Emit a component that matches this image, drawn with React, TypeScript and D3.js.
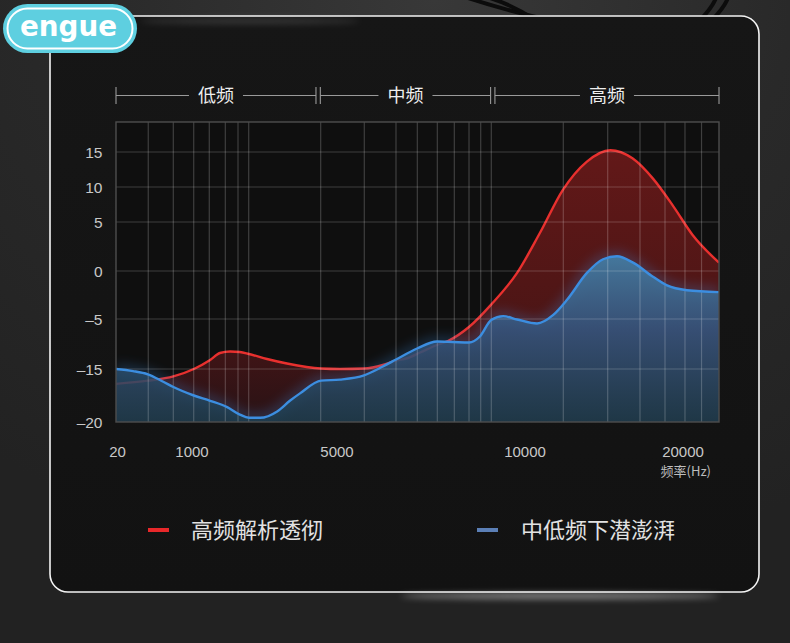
import React from 'react';
import * as d3 from 'd3';

// ---------- data ----------
const bandNames = ['低频', '中频', '高频'];
const bandStart = [20, 4540, 9200];
const bandEnd = [4420, 9085, 22300];

const xTickValues = [20, 1000, 5000, 10000, 20000];
const xTickLabels = ['20', '1000', '5000', '10000', '20000'];
const yTickValues = [15, 10, 5, 0, -5, -15, -20];
const yTickLabels = ['15', '10', '5', '0', '–5', '–15', '–20'];

const xGridValues = [436, 759, 1047, 1477, 1919, 2269, 2564, 4550, 5726, 6569, 7136, 7668, 8120, 8511, 8822, 9104, 12424, 15234, 17278, 18861, 20127, 21184];
const yGridValues = [15, 10, 5, 0, -5, -15];

const seriesNames = ['高频解析透彻', '中低频下潜澎湃'];

const redFreq = [20, 430, 760, 1050, 1500, 1770, 2050, 2320, 2570, 3070, 3620, 4560, 5080, 5720, 6220, 6570, 6840, 7210, 7660, 7950, 8510, 9100, 9790, 10950, 12400, 13900, 15400, 16800, 18100, 19400, 20600, 22300];
const redDb = [-16.4, -16.1, -15.7, -15.0, -13.2, -11.8, -11.5, -11.6, -12.0, -13.0, -13.9, -14.9, -15.0, -14.9, -14.2, -13.3, -12.9, -11.7, -10.2, -9.4, -6.6, -3.5, -0.2, 3.9, 9.6, 13.6, 15.3, 14.1, 11.2, 7.2, 3.7, 0.85];

const blueFreq = [20, 240, 430, 630, 760, 1050, 1500, 1970, 2320, 2570, 2880, 3350, 3700, 3980, 4560, 5080, 5720, 6220, 6570, 7130, 7660, 8090, 8510, 8800, 9100, 9420, 9790, 10760, 11770, 12660, 13920, 14940, 15820, 16840, 18100, 18990, 20250, 22300];
const blueDb = [-15.0, -15.2, -15.5, -16.2, -16.7, -17.5, -18.0, -18.6, -19.3, -19.6, -19.6, -19.0, -18.0, -17.3, -16.1, -16.0, -15.6, -14.5, -13.1, -10.9, -9.5, -9.6, -9.7, -8.5, -5.2, -4.7, -5.1, -5.9, -4.6, -3.0, -0.2, 1.2, 1.5, 0.85, -0.6, -1.5, -2.0, -2.2];

// ---------- layout ----------
const W = 790;
const H = 643;
const plot = { left: 116, right: 719, top: 122, bottom: 422 };

const x = d3
  .scaleLinear()
  .domain([20, 1000, 5000, 10000, 20000, 22300])
  .range([116, 192, 337, 525, 683, 719]);

const y = d3
  .scaleLinear()
  .domain([-20, -15, -5, 0, 5, 10, 15, 20])
  .range([422, 369, 319, 271, 222, 187, 152, 122]);

type Pt = { f: number; v: number };
const redData: Pt[] = redFreq.map((f, i) => ({ f, v: redDb[i] }));
const blueData: Pt[] = blueFreq.map((f, i) => ({ f, v: blueDb[i] }));

const line = d3
  .line<Pt>()
  .x((d) => x(d.f))
  .y((d) => y(d.v))
  .curve(d3.curveMonotoneX);

const area = d3
  .area<Pt>()
  .x((d) => x(d.f))
  .y0(y(-20))
  .y1((d) => y(d.v))
  .curve(d3.curveMonotoneX);

const numFont = '"Liberation Sans", Arial, Helvetica, sans-serif';
const cjkFont = '"Noto Sans CJK SC", "Noto Sans", sans-serif';

export default function App() {
  return (
    <svg width={W} height={H} style={{ position: 'absolute', left: 0, top: 0, display: 'block' }}>
      <defs>
        <radialGradient id="bgGrad" cx="0.55" cy="0" r="0.9">
          <stop offset="0" stopColor="#383838" />
          <stop offset="0.5" stopColor="#292929" />
          <stop offset="1" stopColor="#222222" />
        </radialGradient>
        <linearGradient id="cardGrad" x1="0" y1="0" x2="0" y2="1">
          <stop offset="0" stopColor="#161616" />
          <stop offset="1" stopColor="#121212" />
        </linearGradient>
        <linearGradient id="redFill" gradientUnits="userSpaceOnUse" x1="0" y1="150" x2="0" y2="422">
          <stop offset="0" stopColor="rgb(150,30,30)" stopOpacity="0.62" />
          <stop offset="0.6" stopColor="rgb(140,28,28)" stopOpacity="0.5" />
          <stop offset="1" stopColor="rgb(120,28,38)" stopOpacity="0.25" />
        </linearGradient>
        <linearGradient id="blueFill" gradientUnits="userSpaceOnUse" x1="0" y1="255" x2="0" y2="422">
          <stop offset="0" stopColor="rgb(68,124,162)" stopOpacity="0.95" />
          <stop offset="0.45" stopColor="rgb(52,86,128)" stopOpacity="0.88" />
          <stop offset="1" stopColor="rgb(28,64,82)" stopOpacity="0.8" />
        </linearGradient>
        <filter id="blur6" x="-20%" y="-50%" width="140%" height="200%">
          <feGaussianBlur stdDeviation="6" />
        </filter>
        <filter id="blur3" x="-20%" y="-200%" width="140%" height="500%">
          <feGaussianBlur stdDeviation="3" />
        </filter>
        <clipPath id="plotClip">
          <rect x={plot.left} y={plot.top} width={plot.right - plot.left} height={plot.bottom - plot.top} />
        </clipPath>
      </defs>

      {/* page background */}
      <rect x={0} y={0} width={W} height={H} fill="url(#bgGrad)" />
      {/* headphone cables */}
      <g fill="none" stroke="#0c0c0c" strokeWidth={4} strokeLinecap="round">
        <path d="M468,-2 Q505,10 548,20" />
        <path d="M490,-2 Q515,6 535,20" />
        <path d="M700,20 Q712,8 716,-2" />
        <path d="M712,20 Q724,8 728,-2" />
      </g>

      {/* card */}
      <rect x={50} y={16} width={709} height={576} rx={18} fill="url(#cardGrad)" stroke="#f4f4f4" strokeWidth={1.6} />
      {/* glows */}
      <ellipse cx={250} cy={21} rx={110} ry={3} fill="#ffffff" opacity={0.14} filter="url(#blur3)" />
      <ellipse cx={560} cy={596} rx={160} ry={3} fill="#ffffff" opacity={0.45} filter="url(#blur3)" />

      {/* plot background */}
      <rect x={plot.left} y={plot.top} width={plot.right - plot.left} height={plot.bottom - plot.top} fill="#0f0f0f" />

      <g clipPath="url(#plotClip)">
        <path d={area(redData) || ''} fill="url(#redFill)" />
        <path d={line(redData) || ''} fill="none" stroke="#e8302e" strokeWidth={2.4} />
        <path d={line(blueData) || ''} fill="none" stroke="#3c8ee0" strokeWidth={9} opacity={0.3} filter="url(#blur6)" />
        <path d={area(blueData) || ''} fill="url(#blueFill)" />
        {/* grid */}
        <g stroke="#ffffff" strokeOpacity={0.2} strokeWidth={1.2}>
          {xGridValues.map((f) => (
            <line key={'gx' + f} x1={x(f)} x2={x(f)} y1={plot.top} y2={plot.bottom} />
          ))}
          {yGridValues.map((v) => (
            <line key={'gy' + v} x1={plot.left} x2={plot.right} y1={y(v)} y2={y(v)} />
          ))}
        </g>
        <path d={line(blueData) || ''} fill="none" stroke="#3c8ee0" strokeWidth={2.4} />
      </g>
      <rect
        x={plot.left}
        y={plot.top}
        width={plot.right - plot.left}
        height={plot.bottom - plot.top}
        fill="none"
        stroke="#4e4e4e"
        strokeWidth={1.4}
      />

      {/* y axis labels */}
      <g fontFamily={numFont} fontSize={15.5} fill="#c8c8c8" textAnchor="end">
        {yTickValues.map((v, i) => (
          <text key={'yl' + v} x={102.5} y={y(v)} dy="0.36em">
            {yTickLabels[i]}
          </text>
        ))}
      </g>

      {/* x axis labels */}
      <g fontFamily={numFont} fontSize={15} fill="#c8c8c8" textAnchor="middle">
        {xTickValues.map((f, i) => (
          <text key={'xl' + f} x={x(f) + (i === 0 ? 1.5 : 0)} y={457}>
            {xTickLabels[i]}
          </text>
        ))}
      </g>
      <text x={711} y={476} fontFamily={cjkFont} fontSize={13} fill="#bdbdbd" textAnchor="end">
        频率(Hz)
      </text>

      {/* frequency bands */}
      <g stroke="#9a9a9a" strokeWidth={1.1}>
        {bandNames.map((b, i) => {
          const a = x(bandStart[i]);
          const e = x(bandEnd[i]);
          const c = (a + e) / 2;
          return (
            <g key={'band' + b}>
              <line x1={a} x2={a} y1={87} y2={104} />
              <line x1={e} x2={e} y1={87} y2={104} />
              <line x1={a} x2={c - 27} y1={95.5} y2={95.5} />
              <line x1={c + 27} x2={e} y1={95.5} y2={95.5} />
            </g>
          );
        })}
      </g>
      <g fontFamily={cjkFont} fontSize={18} fill="#eeeeee" textAnchor="middle">
        {bandNames.map((b, i) => (
          <text key={'bt' + b} x={(x(bandStart[i]) + x(bandEnd[i])) / 2} y={96} dy="0.36em">
            {b}
          </text>
        ))}
      </g>

      {/* legend */}
      <g>
        <line x1={148} x2={169} y1={530} y2={530} stroke="#e8282a" strokeWidth={4} />
        <text x={191} y={530} dy="0.36em" fontFamily={cjkFont} fontSize={22} fill="#e2e2e2">
          {seriesNames[0]}
        </text>
        <line x1={477} x2={498} y1={530} y2={530} stroke="#5b7fb6" strokeWidth={4} />
        <text x={521} y={530} dy="0.36em" fontFamily={cjkFont} fontSize={22} fill="#e2e2e2">
          {seriesNames[1]}
        </text>
      </g>

      {/* logo */}
      <g>
        <rect x={3} y={4} width={134} height={49} rx={24.5} fill="#5ecfe0" />
        <rect x={7.5} y={8.5} width={125} height={40} rx={20} fill="none" stroke="#ffffff" strokeWidth={2} />
        <text
          x={20}
          y={36}
          fontFamily='"DejaVu Sans", Verdana, sans-serif'
          fontWeight="bold"
          fontSize={28}
          fill="#ffffff"
          textLength={97}
          lengthAdjust="spacingAndGlyphs"
        >
          engue
        </text>
      </g>
    </svg>
  );
}
